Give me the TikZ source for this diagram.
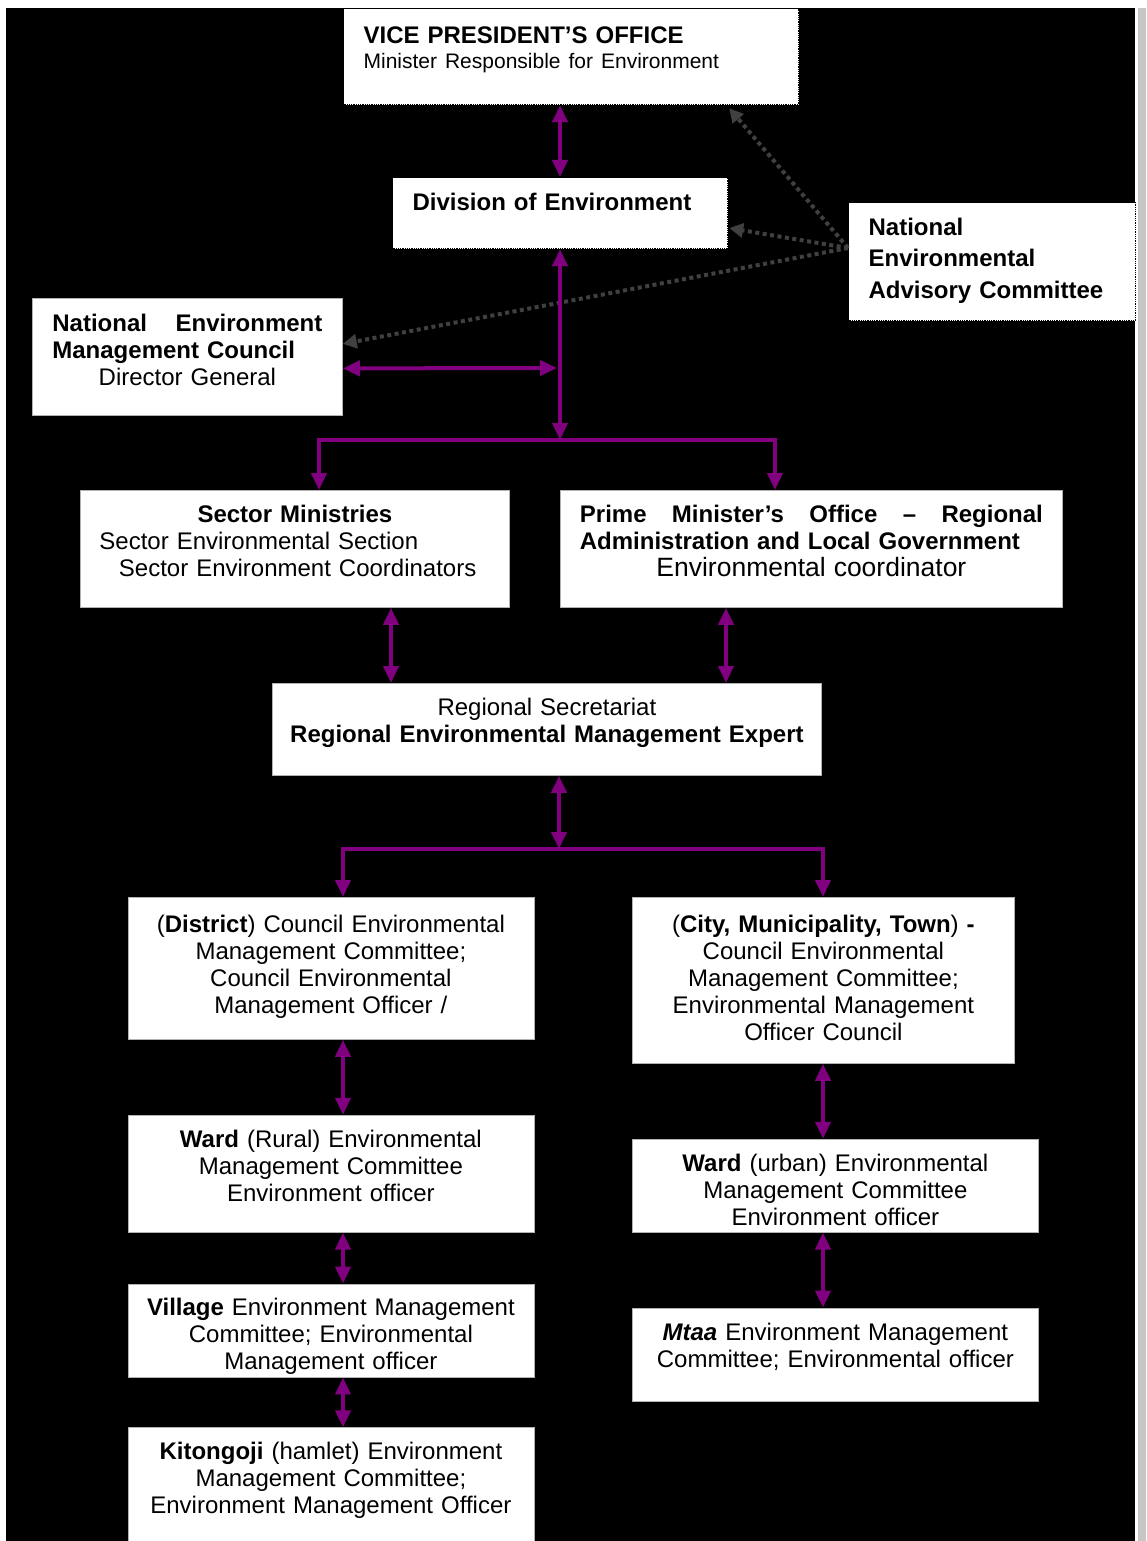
\documentclass[tikz,border=0pt]{standalone}
\usepackage{fontspec}
\setmainfont{Liberation Sans}
\usepackage{xcolor}
\usepackage{tikz}
\usetikzlibrary{arrows.meta, positioning}
\definecolor{orgpurple}{HTML}{800080}
\definecolor{advgray}{HTML}{404040}

\begin{document}
\begin{tikzpicture}[
	x=1pt, y=-1pt,
	box/.style={draw=gray!60, line width=0.8pt, fill=white, anchor=north west, inner xsep=10pt, inner ysep=0pt, align=center, font=\fontsize{24}{27}\selectfont},
	dbox/.style={box, draw=black, densely dotted, line width=1.2pt, align=left, inner xsep=20pt},
	arr/.style={draw=orgpurple, line width=4pt, -{Triangle[length=17pt, width=15pt]}},
	dbl/.style={draw=orgpurple, line width=4pt, {Triangle[length=17pt, width=15pt]}-{Triangle[length=17pt, width=15pt]}},
	adv/.style={draw=advgray, line width=4pt, dash pattern=on 4pt off 3.5pt, -{Triangle[length=14pt, width=14pt]}}
]

\useasboundingbox (0,0) rectangle (1146,1541);
\fill[black] (6,8) rectangle (1135,1541);
\fill[gray!45] (1137.5,8) rectangle (1146,1541);

% national level
\node[dbox, text width=415pt, text height=35pt, text depth=61pt] (vp) at (343,8) {\textbf{VICE PRESIDENT’S OFFICE}\\[-2pt]{\fontsize{21}{25}\selectfont Minister Responsible for Environment}};
\node[dbox, text width=295pt, text height=32.6pt, text depth=38.4pt] (div) at (392,177) {\textbf{Division of Environment}};
\node[dbox, text width=247pt, text height=32.6pt, text depth=85.4pt, font=\bfseries\fontsize{24}{31.5}\selectfont] (neac) at (848,202) {National\\Environmental\\Advisory Committee};
\node[box, align=left, inner xsep=20pt, text width=270pt, text height=32.6pt, text depth=84.4pt] (nemc) at (32,298) {\textbf{National\hfill Environment}\\ \textbf{Management Council}\\ \hspace*{\fill}Director General\hfill\mbox{}};

\node[box, align=left, inner xsep=19pt, text width=391pt, text height=31.6pt, text depth=85.4pt] (sector) at (80,490) {\hspace*{\fill}\textbf{Sector Ministries}\hfill\mbox{}\\ Sector Environmental Section\\ \hspace*{19.5pt}Sector Environment Coordinators};
\node[box, align=left, inner xsep=19.5pt, text width=463pt, text height=31.6pt, text depth=85.4pt] (pmo) at (560,490) {\textbf{Prime\hfill Minister’s\hfill Office\hfill --\hfill Regional}\\ \textbf{Administration and Local Government}\\ \hspace*{\fill}{\fontsize{26.5}{27}\selectfont Environmental coordinator}\hfill\mbox{}};

\node[box, text width=529pt, text height=31.6pt, text depth=60.4pt] (regional) at (272,683) {Regional Secretariat\\ \textbf{Regional Environmental Management Expert}};

% rural side
\node[box, text width=386pt, text height=34.6pt, text depth=107.4pt] (district) at (127.5,897) {(\textbf{District}) Council Environmental\\ Management Committee;\\ Council Environmental\\ Management Officer /};
\node[box, below=75pt of district, text width=386pt, text height=32.6pt, text depth=84.4pt] (wardR) {\textbf{Ward} (Rural) Environmental\\ Management Committee\\ Environment officer};
\node[box, below=51pt of wardR, text width=386pt, text height=31.6pt, text depth=61.4pt] (village) {\textbf{Village} Environment Management\\ Committee; Environmental\\ Management officer};
\node[box, below=50pt of village, text width=386pt, text height=31.6pt, text depth=87.4pt] (kitongoji) {\textbf{Kitongoji} (hamlet) Environment\\ Management Committee;\\ Environment Management Officer};

% urban side
\node[box, text width=362pt, text height=34.6pt, text depth=131.4pt] (city) at (632,897) {(\textbf{City, Municipality, Town}) \textbf{-}\\ Council Environmental\\ Management Committee;\\ Environmental Management\\ Officer Council};
\node[box, below right=75pt and 0pt of city.south west, text width=386pt, text height=32.6pt, text depth=60.4pt] (wardU) {\textbf{Ward} (urban) Environmental\\ Management Committee\\ Environment officer};
\node[box, below=75pt of wardU, text width=386pt, text height=32.6pt, text depth=60.4pt] (mtaa) {\textbf{\textit{Mtaa}} Environment Management\\ Committee; Environmental officer};

\coordinate (spine) at (560,0);
\coordinate (tap) at (557,368);
\coordinate (hub1) at (560,440);
\coordinate (hub2) at (559,849);
\coordinate (colS) at (319,0);
\coordinate (colP) at (775,0);
\coordinate (colA) at (391,0);
\coordinate (colB) at (726,0);
\coordinate (colL) at (343,0);
\coordinate (colR) at (823,0);

% advisory links
\draw[adv] ([yshift=-46pt]neac.north west) -- ([xshift=-70pt, yshift=-3pt]vp.south east);
\draw[adv] ([yshift=-46pt]neac.north west) -- ([xshift=1pt, yshift=-15pt]div.east);
\draw[adv] ([yshift=-46pt]neac.north west) -- ([yshift=13pt]nemc.east);

\draw[dbl] (vp.south -| spine) -- (div.north -| spine);
\draw[dbl] (div.south -| spine) -- (hub1);
\draw[dbl] ([yshift=-11.5pt]nemc.east) -- (tap);
\draw[arr] (hub1) -| (sector.north -| colS);
\draw[arr] (hub1) -| (pmo.north -| colP);

\draw[dbl] (sector.south -| colA) -- (regional.north -| colA);
\draw[dbl] (pmo.south -| colB) -- (regional.north -| colB);
\draw[dbl] (regional.south -| hub2) -- (hub2);
\draw[arr] (hub2) -| (district.north -| colL);
\draw[arr] (hub2) -| (city.north -| colR);

\draw[dbl] (district.south -| colL) -- (wardR.north -| colL);
\draw[dbl] (wardR.south -| colL) -- (village.north -| colL);
\draw[dbl] (village.south -| colL) -- (kitongoji.north -| colL);
\draw[dbl] (city.south -| colR) -- (wardU.north -| colR);
\draw[dbl] (wardU.south -| colR) -- (mtaa.north -| colR);

\end{tikzpicture}
\end{document}
